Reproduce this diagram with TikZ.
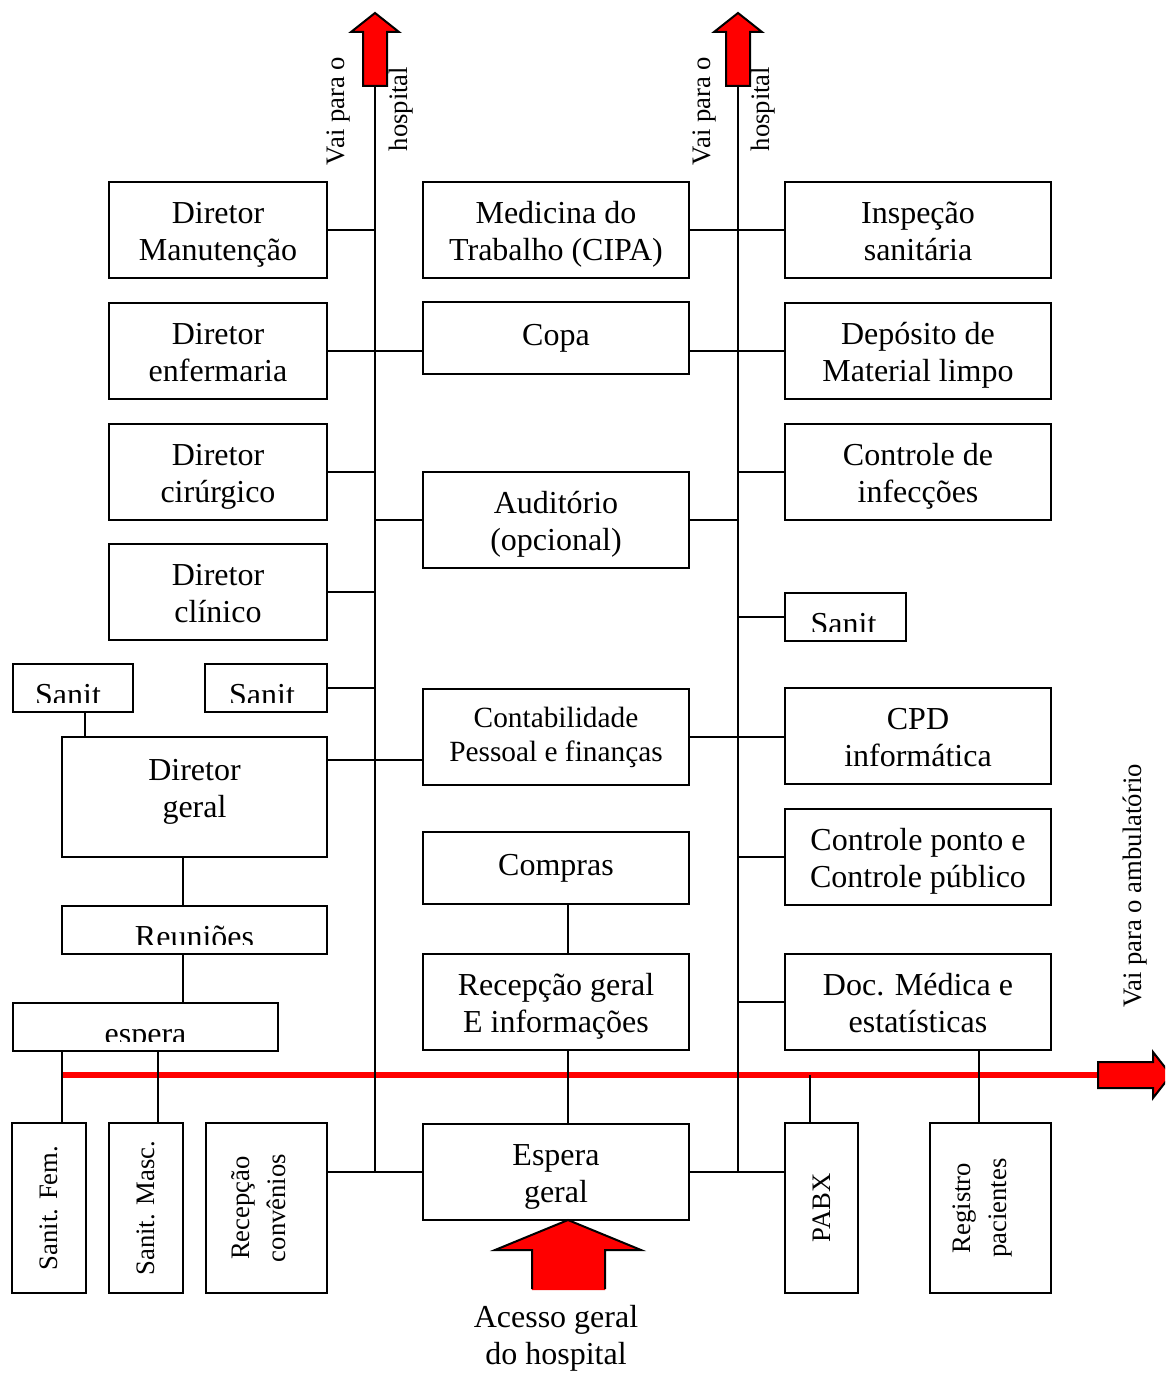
\documentclass[tikz,border=0pt]{standalone}
\usepackage{fontspec}
\setmainfont{Liberation Serif}
\usetikzlibrary{calc}
% fixed first-line height and last-line depth for two-line labels
\newcommand\rmtop{\rule{0pt}{24pt}}
\newcommand\rmbot{\rule[-5.5pt]{0pt}{5.5pt}}
\begin{document}
\begin{tikzpicture}[x=0.75pt,y=-0.75pt,
  wire/.style={line width=1.5pt, black},
  room/.style={draw, line width=1.5pt, inner sep=0pt, align=center,
    font=\fontsize{24}{27.8}\selectfont},
  sz/.style 2 args={minimum width=#1*0.75pt, minimum height=#2*0.75pt},
  smalltxt/.style={font=\fontsize{22}{25.5}\selectfont},
  bigtxt/.style={inner sep=0pt, align=center, font=\fontsize{24}{27.8}\selectfont},
  vtxt/.style={rotate=90, align=center, inner sep=0pt, font=\fontsize{20}{27.5}\selectfont},
  redway/.style={red, line width=4.5pt},
  bigarrow/.style={fill=red, draw=black, line width=1.5pt, line join=miter}
]
\useasboundingbox (0,0) rectangle (1165,1373);
\clip (0,0) rectangle (1165,1373);

% ---------- rooms: left column ----------
\node[room, sz={218}{96}] (dman) at (218,230)   {\rmtop Diretor\\Manutenção\rmbot};
\node[room, sz={218}{96}] (denf) at (218,351)   {\rmtop Diretor\\enfermaria\rmbot};
\node[room, sz={218}{96}] (dcir) at (218,471.5) {\rmtop Diretor\\cirúrgico\rmbot};
\node[room, sz={218}{96}] (dcli) at (218,592)   {\rmtop Diretor\\clínico\rmbot};

% ---------- rooms: middle column ----------
\node[room, sz={266}{96}] (med)  at (556,230)  {\rmtop Medicina do\\Trabalho (CIPA)\rmbot};
\node[room, sz={266}{72}] (copa) at (556,338)  {Copa};
\node[room, sz={266}{96}] (aud)  at (556,520)  {\rmtop Auditório\\(opcional)\rmbot};
\node[room, sz={266}{96}, smalltxt] (cont) at (556,737) {Contabilidade\\Pessoal e finanças};
\node[room, sz={266}{72}] (comp) at (556,868)  {Compras};
\node[room, sz={266}{96}] (recg) at (556,1002) {\rmtop Recepção geral\\E informações\rmbot};
\node[room, sz={266}{96}] (esp)  at (556,1172) {\rmtop Espera\\geral\rmbot};

% ---------- rooms: right column ----------
\node[room, sz={266}{96}] (insp)   at (918,230)   {\rmtop Inspeção\\sanitária\rmbot};
\node[room, sz={266}{96}] (dep)    at (918,351)   {\rmtop Depósito de\\Material limpo\rmbot};
\node[room, sz={266}{96}] (cinf)   at (918,471.5) {\rmtop Controle de\\infecções\rmbot};
\node[room, sz={121}{48}] (sanR)   at (845.5,617) {};
\node[room, sz={266}{96}] (cpd)    at (918,736)   {\rmtop CPD\\informática\rmbot};
\node[room, sz={266}{96}] (cponto) at (918,857)   {\rmtop Controle ponto e\\Controle público\rmbot};
\node[room, sz={266}{96}] (doc)    at (918,1002)  {\rmtop Doc. Médica e\\estatísticas\rmbot};
\node[room, sz={73}{170}]  (pabx)  at (821.5,1208) {};
\node[room, sz={121}{170}] (reg)   at (990.5,1208) {};

% ---------- rooms: lower left ----------
\node[room, sz={120}{48}]  (sanL)    at (73,688)     {};
\node[room, sz={122}{48}]  (sanM)    at (266,688)    {};
\node[room, sz={265}{120}] (dger)    at (194.5,797)  {};
\node[room, sz={265}{48}]  (reun)    at (194.5,930)  {};
\node[room, sz={265}{48}]  (esperaL) at (145.5,1027) {};
\node[room, sz={74}{170}]  (sfem)    at (49,1208)    {};
\node[room, sz={74}{170}]  (smasc)   at (146,1208)   {};
\node[room, sz={121}{170}] (rconv)   at (266.5,1208) {};

\node[bigtxt] (dger-txt) at ($(dger)+(0,-10)$) {\rmtop Diretor\\geral\rmbot};

% labels cut off by the lower edge of their frames
\foreach \b/\t/\dx in {sanL/Sanit/-5, sanM/Sanit/-4, sanR/Sanit/-2,
                       reun/Reuniões/0, esperaL/espera/0}{
  \begin{scope}
    \clip (\b.north west) rectangle ($(\b.south east)+(0,-11)$);
    \node[bigtxt, anchor=base] (\b-txt) at ($(\b.south)+(\dx,-8)$) {\t};
  \end{scope}
}

% upright labels of the tall rooms
\node[vtxt] (sfem-txt)  at (sfem)  {Sanit. Fem.};
\node[vtxt] (smasc-txt) at (smasc) {Sanit. Masc.};
\node[vtxt] (rconv-txt) at ($(rconv)+(-8,0)$) {Recepção\\convênios};
\node[vtxt] (pabx-txt)  at (pabx)  {PABX};
\node[vtxt] (reg-txt)   at ($(reg)+(-8,0)$) {Registro\\pacientes};

% ---------- corridor to the outpatient wing ----------
\coordinate (redL) at (62,1075);
\coordinate (redR) at (1098,1075);
\draw[redway] (redL) -- (redR);
\filldraw[bigarrow] (1098,1062) -- (1153,1062) -- (1153,1052) -- (1171,1075)
  -- (1153,1098) -- (1153,1088) -- (1098,1088) -- cycle;
\node[vtxt] (amb) at (1135,886) {Vai para o ambulatório};

% ---------- main spines and exits to the hospital ----------
\coordinate (spLtop) at (375,86);
\coordinate (spLbot) at (375,1172);
\coordinate (spRtop) at (738,86);
\coordinate (spRbot) at (738,1172);
\filldraw[bigarrow] (363,86) -- (363,32) -- (351,32) -- (375,13) -- (399,32)
  -- (387,32) -- (387,86) -- cycle;
\filldraw[bigarrow] (726,86) -- (726,32) -- (714,32) -- (738,13) -- (762,32)
  -- (750,32) -- (750,86) -- cycle;
\draw[wire] (spLtop) -- (spLbot);
\draw[wire] (spRtop) -- (spRbot);
\node[vtxt] (hL1) at (339,111) {Vai para o};
\node[vtxt] (hL2) at (401,109) {hospital};
\node[vtxt] (hR1) at (704,111) {Vai para o};
\node[vtxt] (hR2) at (763,109) {hospital};

% ---------- main entrance ----------
\fill[red] (532,1290) -- (532,1250) -- (495,1250) -- (568,1220) -- (641,1250)
  -- (605,1250) -- (605,1290) -- cycle;
\draw[line width=1.5pt, line join=miter] (532,1289) -- (532,1250) -- (495,1250)
  -- (568,1220) -- (641,1250) -- (605,1250) -- (605,1289);
\node[bigtxt] (acesso) at (556,1338) {Acesso geral\\do hospital};

% ---------- connections, left spine ----------
\draw[wire] (dman.east) -- (dman.east -| spLtop);
\draw[wire] (denf.east) -- (denf.east -| copa.west);
\draw[wire] (dcir.east) -- (dcir.east -| spLtop);
\draw[wire] (aud.west) -- (aud.west -| spLtop);
\draw[wire] (dcli.east) -- (dcli.east -| spLtop);
\draw[wire] (sanM.east) -- (sanM.east -| spLtop);
\draw[wire] ($(dger.north east)+(0,24)$) coordinate (dg) -- (dg -| cont.west);
\draw[wire] (esp.west) -- (esp.west -| rconv.east);

% ---------- connections, right spine ----------
\draw[wire] (med.east) -- (med.east -| insp.west);
\draw[wire] (dep.west) -- (dep.west -| copa.east);
\draw[wire] (cinf.west) -- (cinf.west -| spRtop);
\draw[wire] (aud.east) -- (aud.east -| spRtop);
\draw[wire] (sanR.west) -- (sanR.west -| spRtop);
\draw[wire] (cont.east) -- (cont.east -| cpd.west);
\draw[wire] (cponto.west) -- (cponto.west -| spRtop);
\draw[wire] (doc.west) -- (doc.west -| spRtop);
\draw[wire] (esp.east) -- (esp.east -| pabx.west);

% ---------- vertical links ----------
\draw[wire] ($(comp.south)+(12,0)$) coordinate (c1) -- (c1 |- recg.north);
\draw[wire] ($(recg.south)+(12,0)$) coordinate (c2) -- (c2 |- esp.north);
\draw[wire] ($(sanL.south)+(12,0)$) coordinate (c3) -- (c3 |- dger.north);
\draw[wire] ($(dger.south)+(-12,0)$) coordinate (c4) -- (c4 |- reun.north);
\draw[wire] ($(reun.south)+(-12,0)$) coordinate (c5) -- (c5 |- esperaL.north);
\draw[wire] ($(sfem.north)+(13,0)$) coordinate (c6) -- (c6 |- esperaL.south);
\draw[wire] ($(smasc.north)+(12,0)$) coordinate (c7) -- (c7 |- esperaL.south);
\draw[wire] ($(pabx.north)+(-12,0)$) coordinate (c8) -- (c8 |- redL);
\draw[wire] ($(reg.north)+(-12,0)$) coordinate (c9) -- (c9 |- doc.south);

\end{tikzpicture}
\end{document}
